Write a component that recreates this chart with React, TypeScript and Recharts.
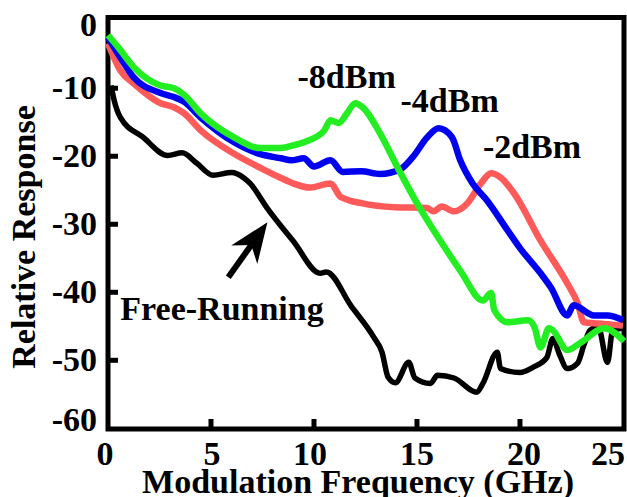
import React from 'react';
import { LineChart, Line, XAxis, YAxis, ReferenceArea, ReferenceDot, ReferenceLine, Label } from 'recharts';

const FONT = '"Liberation Serif", "Times New Roman", Times, serif';

const freqTicks = [0, 5, 10, 15, 20, 25];
const respTicks = [0, -10, -20, -30, -40, -50, -60];

// [frequency GHz, relative response dB]
const freeRunning: [number, number][] = [
  [0.15, -9.6], [0.3, -11.8], [0.6, -14.3], [1.7, -17.2], [2.9, -19.9], [3.6, -19.5],
  [4.3, -21], [5.1, -22.8], [6.0, -22.4], [6.6, -23.2], [6.9, -24], [7.7, -27.5],
  [9.0, -32.5], [10.3, -37.2], [10.6, -37], [11.8, -42], [12.9, -46.6], [13.3, -48.8],
  [13.6, -52.5], [13.95, -53.3], [14.6, -50.3], [14.9, -52.6], [15.65, -53.4], [16.0, -52.2],
  [16.8, -52.6], [17.9, -54.7], [18.2, -53.4], [18.9, -48.8], [19.05, -51.2], [20.0, -51.8],
  [20.65, -51.0], [21.3, -49.6], [21.6, -46.8], [21.9, -49.0], [22.3, -51.2], [22.8, -50.4],
  [23.1, -47.8], [23.4, -45.6], [23.8, -45.1], [24.25, -50.3], [24.5, -45.6], [24.95, -45.3],
];

const minus2dBm: [number, number][] = [
  [0, -3.4], [0.6, -7.4], [1.25, -9.3], [2.55, -12.2], [3.2, -12.8], [3.7, -13.7],
  [4.5, -16.2], [6.1, -19.6], [7.4, -21.7], [8.4, -23.2], [9.0, -24], [9.8, -24.6],
  [10.8, -24], [11.3, -26], [12.3, -26.9], [13.9, -27.5], [15.5, -27.6], [15.8, -28.1],
  [16.2, -27.4], [16.8, -28.1], [17.45, -26.9], [18.1, -24], [18.6, -22.5], [19.05, -23.1],
  [19.7, -25.4], [21.0, -32.4], [22.3, -38.7], [22.8, -41.6], [23.1, -44.4], [23.8, -44.6],
  [25.0, -44.9],
];

const minus4dBm: [number, number][] = [
  [0, -2.5], [0.5, -5], [1.25, -8.4], [2.55, -10.7], [3.2, -11.3], [3.7, -12],
  [4.5, -14.3], [6.1, -17.9], [7.4, -19.7], [8.4, -20.3], [8.9, -20.6], [9.5, -20.3],
  [10.0, -21.5], [10.8, -20.6], [11.4, -22.3], [12.3, -22.2], [13.2, -22.6], [14.2, -21.9],
  [14.8, -20.1], [15.5, -17.2], [16.05, -15.9], [16.7, -17.2], [17.1, -20.6], [17.7, -24],
  [18.4, -26.5], [19.4, -30.9], [20.0, -33.5], [21.0, -37.2], [21.5, -39.3], [22.3, -43.4],
  [22.6, -41.9], [23.6, -43.4], [24.25, -43.4], [25.0, -44.1],
];

const minus8dBm: [number, number][] = [
  [0, -2.2], [0.5, -4], [1.25, -6.9], [2.55, -9.6], [3.2, -10], [3.7, -11],
  [4.5, -13.7], [6.1, -17.2], [7.4, -18.8], [8.4, -18.8], [9.0, -18.4], [9.8, -17.6],
  [10.5, -16.2], [10.8, -14.7], [11.2, -15.1], [11.6, -13.7], [12.0, -12.2], [12.4, -12.9],
  [13.2, -16.6], [14.05, -21.6], [15.0, -26.9], [16.3, -33.2], [17.1, -36.8], [18.2, -41.2],
  [18.6, -40.1], [18.75, -42.6], [19.4, -44.4], [20.4, -44.1], [20.7, -45.1], [21.0, -48.1],
  [21.4, -45.3], [21.6, -45.6], [22.3, -48.5], [22.9, -47.5], [24.1, -45.3], [25.05, -47.2],
];

const toPoints = (arr: [number, number][]) => arr.map(([f, r]) => ({ f, r }));

const textStyle = { fontFamily: FONT, fontWeight: 'bold' as const, fontSize: 34, fill: '#000' };

function YTick(props: any) {
  const { x, y, payload } = props;
  const v = payload.value;
  const dy = v === 0 ? 16 : v === -60 ? 3 : 11;
  return (
    <g>
      {v !== 0 && v !== -60 && (
        <line x1={x + 11} x2={x + 21} y1={y} y2={y} stroke="#000" strokeWidth={5} />
      )}
      <text x={x} y={y + dy} textAnchor="end" {...textStyle}>{v}</text>
    </g>
  );
}

const xLabelShift: Record<number, number> = { 0: -3, 5: 1, 10: -4, 15: 0, 20: 4, 25: -15 };

function XTick(props: any) {
  const { x, y, payload } = props;
  const v = payload.value;
  return (
    <g>
      {v !== 0 && v !== 25 && (
        <line x1={x} x2={x} y1={y} y2={y - 10} stroke="#000" strokeWidth={5} />
      )}
      <text x={x + (xLabelShift[v] ?? 0)} y={y + 36} textAnchor="middle" {...textStyle}>{v}</text>
    </g>
  );
}

function Arrow(props: any) {
  const { x1, y1, x2, y2 } = props;
  const dx = x2 - x1;
  const dy = y2 - y1;
  const len = Math.sqrt(dx * dx + dy * dy);
  const ux = dx / len;
  const uy = dy / len;
  const px = -uy;
  const py = ux;
  const back = 40;
  const notch = 28;
  const half = 16;
  const bx = x2 - ux * back;
  const by = y2 - uy * back;
  const nx = x2 - ux * notch;
  const ny = y2 - uy * notch;
  const pts = `${x2},${y2} ${bx + px * half},${by + py * half} ${nx},${ny} ${bx - px * half},${by - py * half}`;
  return (
    <g>
      <line x1={x1} y1={y1} x2={nx} y2={ny} stroke="#000" strokeWidth={6} />
      <polygon points={pts} fill="#000" />
    </g>
  );
}

const note = (label: string) => (p: any) => (
  <text x={p.cx} y={p.cy} textAnchor="start" {...textStyle}>{label}</text>
);

export default function App() {
  return (
    <div style={{ position: 'absolute', left: 0, top: 0, background: '#fff' }}>
      <LineChart width={627} height={497} margin={{ top: 17.5, right: 3, left: 0, bottom: 0 }}>
        <XAxis
          dataKey="f"
          type="number"
          domain={[0, 25.05]}
          ticks={freqTicks}
          interval={0}
          axisLine={false}
          tickLine={false}
          tickSize={0}
          tickMargin={0}
          tick={<XTick />}
          height={68}
        >
          <Label
            content={(p: any) => {
              const vb = p.viewBox;
              return (
                <text x={vb.x + vb.width / 2 - 8} y={vb.y + 64} textAnchor="middle" {...textStyle}>
                  Modulation Frequency (GHz)
                </text>
              );
            }}
          />
        </XAxis>
        <YAxis
          dataKey="r"
          type="number"
          domain={[-60.1, 0.4]}
          ticks={respTicks}
          interval={0}
          axisLine={false}
          tickLine={false}
          tickSize={0}
          tickMargin={11}
          tick={<YTick />}
          width={108}
        >
          <Label
            content={() => (
              <text
                x={35}
                y={237}
                textAnchor="middle"
                transform="rotate(-90 35 237)"
                {...textStyle}
              >
                Relative Response
              </text>
            )}
          />
        </YAxis>
        <ReferenceArea
          x1={0}
          x2={25.05}
          y1={-60.1}
          y2={0.4}
          fill="none"
          stroke="#000"
          strokeWidth={5}
          ifOverflow="visible"
        />
        <Line data={toPoints(freeRunning)} dataKey="r" type="monotone" dot={false} stroke="#000000" strokeWidth={5.5} isAnimationActive={false} />
        <Line data={toPoints(minus2dBm)} dataKey="r" type="monotone" dot={false} stroke="#ff5a5a" strokeWidth={6.5} isAnimationActive={false} />
        <Line data={toPoints(minus4dBm)} dataKey="r" type="monotone" dot={false} stroke="#0000f0" strokeWidth={6.5} isAnimationActive={false} />
        <Line data={toPoints(minus8dBm)} dataKey="r" type="monotone" dot={false} stroke="#22ee22" strokeWidth={6.5} isAnimationActive={false} />
        <ReferenceDot x={9.2} y={-10} r={0} ifOverflow="visible" shape={note('-8dBm')} />
        <ReferenceDot x={14.2} y={-13.5} r={0} ifOverflow="visible" shape={note('-4dBm')} />
        <ReferenceDot x={18.2} y={-20.3} r={0} ifOverflow="visible" shape={note('-2dBm')} />
        <ReferenceDot x={0.6} y={-44.1} r={0} ifOverflow="visible" shape={note('Free-Running')} />
        <ReferenceLine
          segment={[{ x: 5.84, y: -37.8 }, { x: 7.74, y: -29.7 }]}
          ifOverflow="visible"
          shape={<Arrow />}
        />
      </LineChart>
    </div>
  );
}
